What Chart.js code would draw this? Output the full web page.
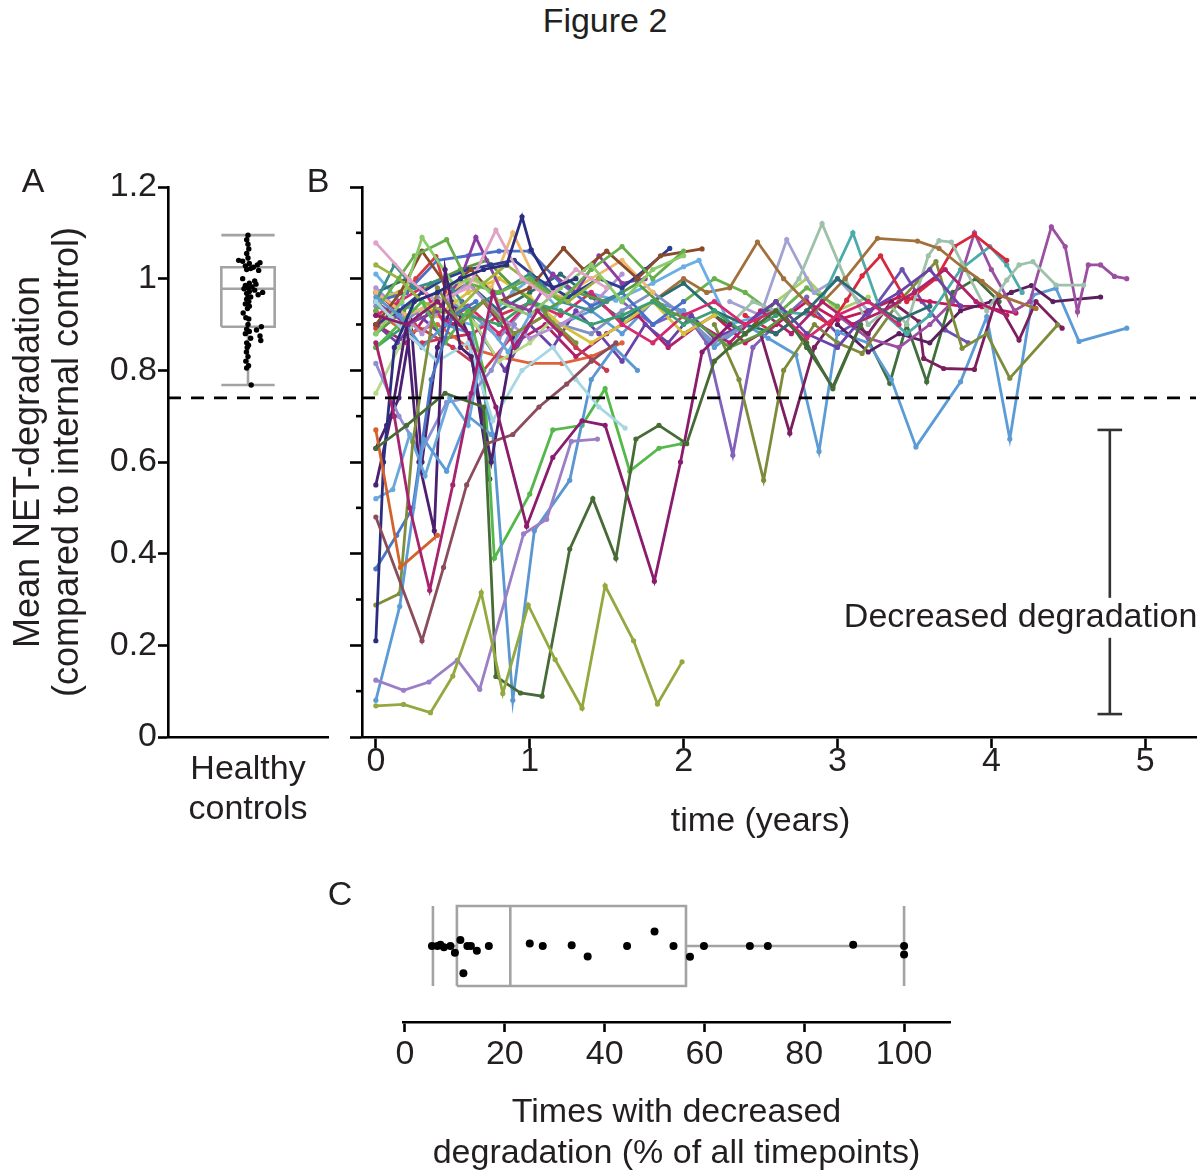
<!DOCTYPE html>
<html>
<head>
<meta charset="utf-8">
<script src="https://cdn.jsdelivr.net/npm/chart.js@4.4.1/dist/chart.umd.min.js"></script>
<style>
  body { margin: 0; background: #fff; width: 1200px; height: 1175px; position: relative; overflow: hidden;
         font-family: "Liberation Sans", Arial, Helvetica, sans-serif; color: #231f20; }
  canvas { position: absolute; }
  .lbl { position: absolute; font-size: 34px; line-height: 1; transform: translate(-50%, -50%); white-space: nowrap; }
</style>
</head>
<body>
<canvas id="chartA" width="345" height="700" style="left:0;top:150px"></canvas>
<canvas id="chartB" width="870" height="700" style="left:330px;top:150px"></canvas>
<canvas id="chartC" width="680" height="305" style="left:330px;top:870px"></canvas>
<div class="lbl" style="left:605px;top:20px">Figure 2</div>
<div class="lbl" style="left:33px;top:180px">A</div>
<div class="lbl" style="left:318px;top:180px">B</div>
<div class="lbl" style="left:340px;top:893px">C</div>
<script>
// ---- data ----
const threshold = 0.74;

// A: healthy controls
const healthyValues = [1.095,1.085,1.075,1.065,1.055,1.045,1.04,1.038,1.035,1.033,1.03,1.028,1.025,1.022,1.02,1.018,1.0,0.995,0.99,0.988,
  0.985,0.982,0.98,0.978,0.975,0.972,0.97,0.968,0.965,0.96,0.96,0.955,0.95,0.945,0.94,0.935,0.925,0.915,0.912,0.9,
  0.895,0.89,0.888,0.885,0.88,0.875,0.87,0.865,0.86,0.855,0.85,0.84,0.83,0.82,0.81,0.805,0.768];
const healthyJitter = [0,-0.05,0,0.03,-0.05,0,-0.35,-0.2,0.45,0.05,0.35,-0.1,0.2,0.1,-0.05,0.4,-0.2,0.25,0.05,0.3,
  -0.1,0.15,0,-0.15,0.25,0.05,0.55,-0.05,0.38,0.1,0,-0.05,0.03,-0.1,0.05,-0.02,-0.18,-0.08,0.03,0,
  0.5,-0.05,0.32,0.05,-0.1,0.45,0.1,0.48,-0.05,0.02,-0.03,-0.06,0,-0.08,0.02,-0.05,0.12];
const healthyBox = { lo: 0.768, q1: 0.895, median: 0.978, q3: 1.025, hi: 1.095 };

// B: patients over time
const patientColors = ['#93a93f','#9b7fc6','#476b37','#8b1c6d','#a8236f','#8b4c5c','#d4622b','#5c9bd6','#2b2e7f','#808d3b',
  '#4a76c6','#6aa8dc','#4d1f70','#8c8fd2','#a6d7e3','#5a96d0','#55b84a','#e0a2c6','#8acb6a','#68ae4c',
  '#9ab23e','#8a4b2b','#3a8e8e','#2c3d92','#8b3da2','#efb86f','#3b9f70','#5b9a41','#4a6fc8','#b292d2',
  '#d62a6e','#c83b50','#d6c13f','#b8d889','#8192c2','#e0623b','#2b6b71','#6b42a9','#b0216b','#4a2171',
  '#d93a3a','#d23250','#6aaee6','#a2713b','#9dc1a9','#d7283d','#4aaba9','#7e8b3a','#9b4fa1','#5b1f60',
  '#7b1f5f','#5c9cd6','#3f6f3b','#c3195c','#a2a2d2','#6b51b1','#8161b9','#6ab14d','#a8d062'];
const patientTimes = [
  [0,0.18,0.355,0.5,0.685,0.825,0.99,1.165,1.34,1.49,1.675,1.83,1.99],
  [0,0.18,0.345,0.53,0.675,0.96,1.11,1.27,1.44],
  [0,0.2,0.45,0.7,0.78,0.94,1.08,1.26,1.41,1.56,1.69,1.84,2.02,2.2,2.4,2.6,2.8,2.97,3.15],
  [0,0.2,0.4,0.6,0.78,0.98,1.15,1.34,1.49,1.81,1.98,2.12,2.3],
  [0,0.12,0.22,0.35,0.5,0.62,0.76,0.9,1.05,1.2],
  [0,0.3,0.44,0.59,0.72,0.89,1.06,1.24,1.4,1.56],
  [0,0.16,0.4],
  [0,0.155,0.31,0.46,0.6,0.75],
  [0,0.05,0.12,0.25,0.4,0.55,0.7,0.85,0.95,1.01,1.15,1.3],
  [0,0.155,0.24,0.4,0.55,0.7,0.9,1.1,1.3],
  [0,0.135,0.24,0.36,0.5,0.65],
  [0,0.11,0.22,0.32,0.48,0.6,0.72,0.86,1.0],
  [0,0.1,0.2,0.28,0.38,0.45,0.55,0.62,0.75,0.9],
  [0,0.15,0.29,0.46,0.6,0.75,0.9],
  [0,0.2,0.4,0.6,0.76,0.95,1.15,1.3,1.45,1.62],
  [0,0.15,0.3,0.45,0.62,0.76,0.89,1.03,1.26,1.4,1.55,1.7],
  [0,0.15,0.3,0.45,0.6,0.7,0.77,1.0,1.15,1.34,1.49,1.65,1.84,1.99],
  [0,0.22,0.4,0.6,0.78,0.95,1.12,1.3,1.5],
  [0,0.17,0.3,0.5,0.65,0.8,1.0,1.2,1.4,1.6,1.8,2.0],
  [0,0.25,0.46,0.6,0.8,1.0,1.2,1.4,1.6,1.8,2.0],
  [0,0.15,0.3,0.5,0.7,0.85,1.05,1.25,1.45],
  [0,0.16,0.3,0.47,0.62,0.8,1.0,1.22,1.35,1.5,1.7,1.85,2.12],
  [0,0.12,0.25,0.45,0.6,0.8,1.0,1.2,1.4,1.6],
  [0,0.15,0.3,0.45,0.6,0.75,0.9,1.05,1.25,1.45,1.6,1.75,1.91],
  [0,0.2,0.4,0.55,0.65,0.85,1.0,1.15,1.3,1.45,1.6,1.75],
  [0,0.2,0.4,0.6,0.75,0.89,1.05,1.2,1.4,1.6,1.8],
  [0,0.2,0.4,0.6,0.8,1.0,1.2,1.4,1.6,1.8,2.0,2.2,2.4,2.6],
  [0,0.18,0.36,0.55,0.72,0.9,1.1,1.3,1.5,1.7,1.9,2.1,2.3,2.5,2.7],
  [0,0.2,0.4,0.6,0.8,1.0,1.2,1.4,1.6,1.8,2.0],
  [0,0.15,0.3,0.45,0.6,0.8,1.0,1.2,1.4,1.6],
  [0,0.15,0.3,0.45,0.6,0.8,1.0,1.2,1.4,1.6,1.8,2.0,2.2,2.4,2.6,2.8,3.0,3.2,3.4],
  [0,0.25,0.5,0.7,0.9,1.1,1.3,1.5],
  [0,0.2,0.4,0.6,0.8,1.0,1.2,1.4,1.6,1.8,2.0,2.2],
  [0,0.15,0.3,0.5,0.65,0.8,1.0,1.2],
  [0,0.2,0.4,0.6,0.8,1.0,1.2,1.4,1.6,1.8,2.0,2.2,2.4],
  [0,0.2,0.4,0.6,0.8,1.01,1.21,1.4,1.6],
  [0,0.2,0.4,0.6,0.8,1.0,1.2,1.4,1.6,1.8,2.0,2.2,2.4,2.6,2.8,3.0,3.2,3.4,3.6],
  [0,0.14,0.28,0.42,0.56,0.7,0.84,1.0,1.15,1.3,1.45,1.6,1.75,1.9,2.05,2.2,2.4,2.6,2.8,3.0,3.2,3.4,3.6,3.8],
  [0,0.2,0.35,0.5,0.7,0.9,1.1,1.3,1.5,1.7,1.9,2.1,2.3,2.5,2.7,2.9,3.1,3.3,3.5,3.7,3.9,4.1],
  [0,0.07,0.15,0.23,0.3,0.4,0.5,0.6,0.74],
  [0,0.13,0.26,0.39,0.5],
  [0.3,0.45,0.63,0.8,1.0],
  [0,0.18,0.4,0.675,0.89,1.01,1.17,1.32,1.56,1.8,2.0,2.1,2.3,2.6],
  [1.8,2.0,2.15,2.3,2.48,2.65,2.85,3.05,3.26,3.52,3.66,3.83,3.94,4.05,4.29],
  [2.3,2.45,2.6,2.75,2.9,3.05,3.2,3.35,3.45,3.59,3.66,3.74,3.81,3.97,4.1,4.18,4.27,4.42,4.6],
  [2.4,2.6,2.8,2.95,3.06,3.16,3.28,3.45,3.64,3.76,3.89,4.1],
  [2.6,2.85,3.1,3.28,3.45,3.6,3.8,3.99,4.1,4.2],
  [2.2,2.36,2.52,2.65,2.85,3.0,3.16,3.4,3.64,3.81,3.97,4.12,4.43],
  [3.0,3.2,3.4,3.6,3.75,3.89,4.0,4.15,4.25,4.39,4.48,4.56,4.63,4.71,4.8,4.88],
  [3.0,3.2,3.4,3.6,3.8,4.0,4.13,4.26,4.4,4.71],
  [2.5,2.69,2.85,3.0,3.2,3.35,3.53,3.56,3.69,3.89,4.03,4.18,4.29,4.46],
  [1.2,1.4,1.6,1.8,2.0,2.2,2.4,2.55,2.73,2.88,3.0,3.2,3.35,3.51,3.8,3.97,4.12,4.27,4.42,4.57,4.88],
  [2.2,2.4,2.6,2.8,2.97,3.15,3.34,3.45,3.58,3.75,3.9,4.05],
  [2.0,2.2,2.4,2.6,2.8,3.0,3.2,3.4,3.6,3.8,3.94,4.16],
  [2.3,2.5,2.67,2.85,3.0,3.2],
  [2.8,3.0,3.2,3.42,3.55,3.7,3.85],
  [1.6,1.8,2.0,2.15,2.32,2.45,2.6,2.8],
  [2.0,2.2,2.4,2.6,2.8,3.0],
  [2.4,2.6,2.8,3.0,3.2]
];
const patientValues = [
  [0.068,0.071,0.053,0.133,0.315,0.095,0.288,0.169,0.063,0.33,0.21,0.072,0.164],
  [0.124,0.102,0.12,0.168,0.104,0.443,0.475,0.645,0.65],
  [0.63,0.68,0.75,0.72,0.132,0.096,0.089,0.41,0.52,0.39,0.65,0.68,0.64,0.82,0.88,0.93,0.86,0.76,0.9],
  [0.92,0.9,0.95,0.88,0.72,0.46,0.61,0.69,0.68,0.34,0.6,0.84,0.9],
  [0.86,0.7,0.5,0.32,0.55,0.75,0.97,0.85,0.93,0.88],
  [0.48,0.21,0.37,0.55,0.64,0.66,0.72,0.77,0.82,0.86],
  [0.67,0.37,0.44],
  [0.08,0.285,0.65,0.58,0.7,0.66],
  [0.21,0.6,0.85,0.95,0.97,1.0,1.02,1.03,1.135,1.063,0.98,1.0],
  [0.288,0.313,0.644,0.98,0.9,0.95,0.88,0.92,0.86],
  [0.367,0.44,0.5,0.78,0.92,0.95],
  [0.52,0.54,0.66,0.57,0.74,0.68,0.9,0.84,0.92],
  [0.55,0.7,0.9,0.6,0.45,1.02,0.85,0.83,0.6,0.88],
  [0.815,0.7,0.62,0.73,0.74,0.8,0.9],
  [0.95,0.88,0.82,0.86,0.69,0.8,0.85,0.78,0.72,0.674],
  [0.96,0.92,0.85,0.9,0.88,0.66,0.08,0.45,0.56,0.78,0.85,0.8],
  [0.85,0.9,0.95,0.86,0.93,0.8,0.39,0.53,0.67,0.68,0.76,0.58,0.63,0.64],
  [1.078,0.997,0.95,0.98,1.106,1.0,0.96,1.02,0.98],
  [0.88,0.95,1.09,0.99,1.0,0.95,0.92,0.98,1.03,0.95,1.02,1.05],
  [0.93,1.05,1.085,0.99,0.97,1.0,0.95,1.02,1.07,1.0,1.06],
  [1.03,1.0,0.95,0.92,0.99,1.03,0.98,0.95,1.0],
  [0.9,0.97,1.06,0.98,1.02,0.95,0.98,1.066,1.02,1.06,1.0,1.05,1.065],
  [0.95,1.03,0.98,1.0,0.93,0.97,1.01,0.95,0.93,0.97],
  [0.9,0.93,0.97,1.0,1.02,1.03,1.04,1.0,0.96,1.0,0.98,1.02,1.066],
  [0.95,0.9,0.93,1.0,1.09,0.95,0.93,1.01,0.97,1.05,0.99,1.0],
  [0.97,0.92,0.95,1.0,0.98,1.1,0.99,0.96,1.0,1.04,0.97],
  [0.85,0.9,0.93,0.92,0.9,0.95,0.93,0.9,0.92,0.95,0.9,0.93,0.88,0.92],
  [0.88,0.93,0.99,1.02,1.04,0.98,0.93,0.97,0.95,0.99,0.93,0.9,0.85,0.88,0.93],
  [0.95,0.97,1.04,1.05,1.06,1.06,0.99,0.94,0.97,0.9,0.95],
  [0.98,0.93,0.88,0.95,0.99,0.92,0.87,0.9,0.94,1.01],
  [0.92,0.95,0.98,0.9,0.94,0.88,0.95,0.92,0.97,0.9,0.86,0.92,0.95,0.9,0.93,0.87,0.92,0.95,0.9],
  [0.97,0.9,0.85,0.8,0.88,0.92,0.85,0.8],
  [0.95,0.98,0.92,0.97,1.0,0.96,0.9,0.86,0.9,0.95,0.88,0.92],
  [0.75,0.85,0.93,0.96,0.9,0.82,0.86,0.93],
  [0.94,0.91,0.96,0.93,0.87,0.95,0.9,0.88,0.93,0.97,0.92,0.86,0.9],
  [0.93,0.88,0.9,0.85,0.83,0.815,0.815,0.83,0.86],
  [0.97,1.0,0.95,0.99,0.93,0.97,1.01,0.96,0.91,0.95,0.99,0.93,0.9,0.88,0.93,1.0,0.95,0.91,0.94],
  [0.9,0.86,0.92,0.88,0.95,0.87,0.8,0.9,0.85,0.93,0.88,0.82,0.9,0.86,0.92,0.87,0.9,0.95,0.88,0.85,0.93,0.97,1.02,0.94],
  [0.9,0.86,0.93,0.9,0.95,0.86,0.9,0.83,0.88,0.92,0.85,0.9,0.86,0.93,0.88,0.95,0.9,0.93,0.97,1.02,0.95,0.92],
  [0.63,0.68,0.74,0.9,0.6,0.85,0.95,0.88,0.563],
  [0.892,0.94,1.0,1.048,0.92],
  [0.86,0.87,0.88,0.92,0.947],
  [1.01,0.94,0.92,0.895,0.97,1.0,0.94,0.975,0.953,0.99,1.026,1.04,0.9,0.93],
  [0.95,1.0,0.97,0.98,1.08,1.0,0.93,1.0,1.088,1.082,1.066,1.02,0.994,0.964,0.935],
  [0.9,0.95,0.93,1.0,1.12,1.0,0.9,0.94,0.9,1.05,1.083,1.08,1.034,0.93,0.997,1.03,1.037,0.986,0.986],
  [0.92,0.88,0.93,0.9,0.953,1.006,1.05,0.95,1.0,1.07,1.096,1.04],
  [0.93,0.92,1.1,0.93,0.88,0.92,1.02,1.07,1.03,0.97],
  [0.9,0.78,0.56,0.8,0.9,0.86,0.837,0.95,1.037,0.848,0.88,0.783,0.899],
  [0.92,0.87,0.85,0.9,0.95,1.1,1.02,0.93,0.95,1.113,1.07,0.928,1.03,1.03,1.005,1.0],
  [0.9,0.84,0.88,0.86,0.93,0.95,0.97,0.985,0.95,0.96],
  [0.88,0.663,0.85,0.92,0.88,0.95,0.906,0.826,0.804,0.802,0.954,0.866,0.95,0.892],
  [0.9,0.93,0.88,0.95,0.93,0.85,0.9,0.87,0.834,0.623,0.884,0.86,0.78,0.633,0.775,0.917,0.65,0.964,0.979,0.863,0.892],
  [0.92,0.88,0.95,0.85,0.764,0.9,0.772,0.9,0.775,0.97,1.0,0.95],
  [0.88,0.92,0.86,0.9,0.95,0.91,0.93,0.96,0.95,0.94,0.939,0.925],
  [0.95,0.92,1.085,0.97,1.0,0.93],
  [0.95,0.88,0.92,1.02,0.95,0.888,0.86],
  [0.95,0.9,0.93,0.86,0.615,0.85,0.9,0.96],
  [0.95,1.0,0.97,0.92,0.98,0.94],
  [0.9,0.95,1.0,0.93,0.96]
];
const yearTicks = [0, 1, 2, 3, 4, 5];
const minorTickValues = [0.1, 0.3, 0.5, 0.7, 0.9, 1.1];
const bracket = { x: 4.77, lo: 0.05, hi: 0.67, cap: 0.08 };
const bracketLabel = 'Decreased degradation';
const bracketLabelPos = { x: 4.19, y: 0.26 };

// C: share of timepoints with decreased degradation
const decreasedPercent = [5.4,6.5,7.1,7.8,9.1,10.0,11.1,11.7,12.5,13.2,14.4,16.8,25.0,27.6,33.4,36.6,44.5,50.0,53.8,57.1,59.9,69.1,72.7,89.8,100,100];
const decreasedJitter = [0,0,0.03,-0.03,0,-0.17,0.15,-0.68,0,0,-0.12,0,0.06,0,0.02,-0.26,0,0.36,0,-0.27,0,0,0,0.03,0,-0.21];
const decreasedBox = { lo: 5.6, q1: 10.4, median: 21.1, q3: 56.3, hi: 100 };

// ---- shared styling ----
const FONT = '"Liberation Sans", Arial, Helvetica, sans-serif';
const TEXT = '#231f20';
const BOXGRAY = '#a3a3a3';
Chart.defaults.font.family = FONT;
Chart.defaults.font.size = 34;
Chart.defaults.color = TEXT;
Chart.defaults.animation = false;
Chart.defaults.plugins.legend.display = false;
Chart.defaults.plugins.tooltip.enabled = false;

function seg(points, color, width, dash, order) {
  return { data: points, showLine: true, borderColor: color, borderWidth: width, borderDash: dash || [],
           pointRadius: 0, fill: false, tension: 0, order: order };
}

function boxDatasets(b, half, horizontal) {
  // box outline, median, whisker lines and caps
  const P = horizontal ? (v, o) => ({ x: v, y: o }) : (v, o) => ({ x: o, y: v });
  return [
    seg([P(b.q1, -half), P(b.q3, -half), P(b.q3, half), P(b.q1, half), P(b.q1, -half)], BOXGRAY, 2.6, null, 2),
    seg([P(b.median, -half), P(b.median, half)], BOXGRAY, 2.6, null, 2),
    seg([P(b.lo, 0), P(b.q1, 0)], BOXGRAY, 2.6, null, 2),
    seg([P(b.q3, 0), P(b.hi, 0)], BOXGRAY, 2.6, null, 2),
    seg([P(b.lo, -half), P(b.lo, half)], BOXGRAY, 2.6, null, 2),
    seg([P(b.hi, -half), P(b.hi, half)], BOXGRAY, 2.6, null, 2)
  ];
}

const axisBorder = { color: '#000', width: 2.6 };

// ---- Panel A ----
new Chart(document.getElementById('chartA'), {
  type: 'scatter',
  data: {
    datasets: [
      { data: healthyValues.map((v, i) => ({ x: healthyJitter[i], y: v })), pointRadius: 2.7,
        pointBackgroundColor: '#000', pointBorderWidth: 0, order: 0 },
      ...boxDatasets(healthyBox, 1, false),
      seg([{ x: -3, y: threshold }, { x: 3, y: threshold }], '#000', 2.6, [13, 10], 1)
    ]
  },
  options: {
    responsive: false,
    layout: { padding: { top: 37, right: 17, left: 0, bottom: 0 } },
    scales: {
      x: {
        type: 'linear', min: -3, max: 3,
        ticks: { display: false },
        grid: { display: false, drawTicks: false },
        border: axisBorder,
        title: { display: true, text: ['Healthy', 'controls'], font: { size: 34, lineHeight: 1.18 }, padding: { top: 0, bottom: 20 } },
        afterFit: s => { s.height = 113; }
      },
      y: {
        min: 0, max: 1.2,
        ticks: { stepSize: 0.2, padding: 1, callback: v => +v.toFixed(1) },
        grid: { drawOnChartArea: false, tickLength: 10, tickWidth: 2.6, tickColor: '#000' },
        border: axisBorder,
        title: { display: true, text: ['Mean NET-degradation', '(compared to internal control)'],
                 font: { size: 36, lineHeight: 1.1 }, padding: { top: 9, bottom: 0 } },
        afterFit: s => { s.width = 168; }
      }
    }
  }
});

// ---- Panel B ----
const panelBExtras = {
  id: 'panelBExtras',
  afterDraw(chart) {
    const { ctx, scales: { x, y } } = chart;
    ctx.save();
    // minor ticks on the y axis
    ctx.strokeStyle = '#000';
    ctx.lineWidth = 2.6;
    minorTickValues.forEach(v => {
      const py = y.getPixelForValue(v);
      ctx.beginPath(); ctx.moveTo(y.right - 6, py); ctx.lineTo(y.right, py); ctx.stroke();
    });
    ctx.font = '34px ' + FONT;
    ctx.textAlign = 'center';
    ctx.textBaseline = 'middle';
    // bracket label, white behind it
    const tx = x.getPixelForValue(bracketLabelPos.x), ty = y.getPixelForValue(bracketLabelPos.y);
    const w = ctx.measureText(bracketLabel).width;
    ctx.fillStyle = '#fff';
    ctx.fillRect(tx - w / 2 - 2, ty - 20, w + 4, 40);
    ctx.fillStyle = TEXT;
    ctx.fillText(bracketLabel, tx, ty);
    // x axis title, centred on the 0-5 range
    ctx.fillText('time (years)', x.getPixelForValue(2.5), chart.chartArea.bottom + 85);
    ctx.restore();
  }
};

const patientSets = patientTimes.map((ts, i) => ({
  data: ts.map((t, j) => ({ x: t, y: patientValues[i][j] })),
  showLine: true, borderColor: patientColors[i], borderWidth: 2.8, tension: 0,
  pointRadius: 2.6, pointBackgroundColor: patientColors[i], pointBorderWidth: 0, order: 3
}));

new Chart(document.getElementById('chartB'), {
  type: 'scatter',
  data: {
    datasets: [
      seg([{ x: -0.09, y: threshold }, { x: 5.33, y: threshold }], '#000', 2.6, [13, 10], 1),
      seg([{ x: bracket.x, y: bracket.lo }, { x: bracket.x, y: bracket.hi }], '#333', 2.6, null, 2),
      seg([{ x: bracket.x - bracket.cap, y: bracket.hi }, { x: bracket.x + bracket.cap, y: bracket.hi }], '#333', 2.6, null, 2),
      seg([{ x: bracket.x - bracket.cap, y: bracket.lo }, { x: bracket.x + bracket.cap, y: bracket.lo }], '#333', 2.6, null, 2),
      ...patientSets
    ]
  },
  options: {
    responsive: false,
    layout: { padding: { top: 37, right: 3, left: 0, bottom: 0 } },
    scales: {
      x: {
        type: 'linear', min: -0.09, max: 5.33,
        afterBuildTicks: s => { s.ticks = yearTicks.map(v => ({ value: v })); },
        ticks: { padding: -7, callback: v => v },
        grid: { drawOnChartArea: false, tickLength: 11, tickWidth: 2.6, tickColor: '#000' },
        border: axisBorder,
        afterFit: s => { s.height = 113; }
      },
      y: {
        min: 0, max: 1.2,
        ticks: { display: false, stepSize: 0.2 },
        grid: { drawOnChartArea: false, tickLength: 12, tickWidth: 2.6, tickColor: '#000' },
        border: axisBorder,
        afterFit: s => { s.width = 32; }
      }
    }
  },
  plugins: [panelBExtras]
});

// ---- Panel C ----
new Chart(document.getElementById('chartC'), {
  type: 'scatter',
  data: {
    datasets: [
      { data: decreasedPercent.map((v, i) => ({ x: v, y: decreasedJitter[i] })), pointRadius: 4,
        pointBackgroundColor: '#000', pointBorderWidth: 0, order: 0 },
      ...boxDatasets(decreasedBox, 1, true)
    ]
  },
  options: {
    responsive: false,
    layout: { padding: { top: 26, right: 60, left: 73, bottom: 0 } },
    scales: {
      x: {
        type: 'linear', min: -0.4, max: 109.2,
        ticks: { stepSize: 20, includeBounds: false, padding: 2 },
        grid: { drawOnChartArea: false, tickLength: 10, tickWidth: 2.6, tickColor: '#000' },
        border: axisBorder,
        title: { display: true, text: ['Times with decreased', 'degradation (% of all timepoints)'],
                 font: { size: 34, lineHeight: 1.2 }, padding: { top: 0, bottom: 1 } },
        afterFit: s => { s.height = 153; }
      },
      y: { display: false, min: -1.9, max: 1.25 }
    }
  }
});
</script>
</body>
</html>
